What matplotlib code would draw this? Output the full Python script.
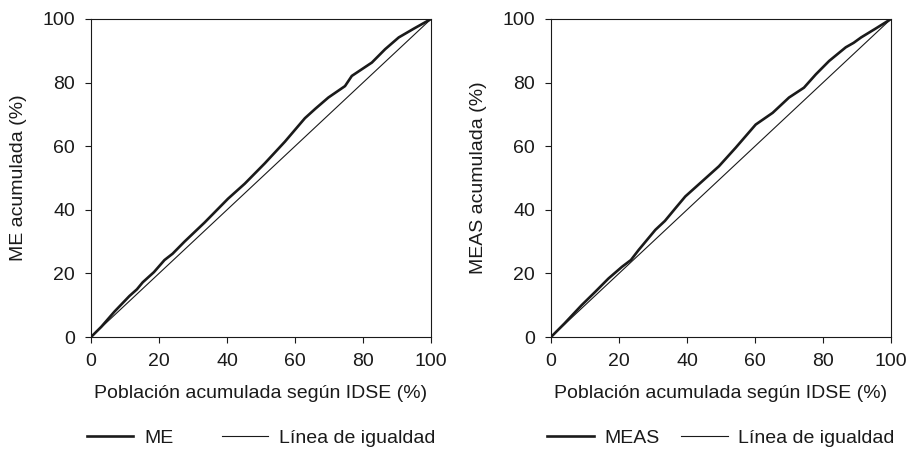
import numpy as np
import matplotlib.pyplot as plt

plt.rcParams['font.family'] = ['Liberation Sans', 'DejaVu Sans']

# Cumulative curves (% population vs % outcome)
me_x = [0, 3.0, 6.9, 11.3, 13.5, 15.2, 18.5, 21.6, 24.0, 27.5, 33.4, 40.3, 45.2,
        51.1, 57.0, 62.9, 66.0, 69.8, 74.7, 76.7, 82.6, 86.5, 90.5, 95.0, 100]
me_y = [0, 3.2, 8.0, 12.9, 15.0, 17.2, 20.4, 24.2, 26.2, 30.0, 36.0, 43.5, 48.2,
        54.6, 61.4, 68.8, 71.8, 75.3, 78.9, 82.1, 86.3, 90.5, 94.2, 97.0, 100]

meas_x = [0, 4.0, 9.0, 13.0, 16.9, 20.9, 23.5, 25.8, 30.7, 33.5, 36.6, 39.5, 44.4,
          49.4, 54.3, 60.2, 65.2, 70.0, 74.4, 77.9, 81.8, 86.7, 89.0, 91.2, 95.5, 100]
meas_y = [0, 4.3, 10.0, 14.2, 18.4, 22.1, 24.2, 27.4, 33.7, 36.5, 40.5, 44.2, 48.9,
          53.7, 59.5, 66.8, 70.5, 75.3, 78.4, 82.6, 86.8, 91.1, 92.5, 94.2, 97.0, 100]

equal = [0, 100]
ticks = [0, 20, 40, 60, 80, 100]

panels = [
    (me_x, me_y, 'ME', 'ME acumulada (%)', 0.0997, 2.5),
    (meas_x, meas_y, 'MEAS', 'MEAS acumulada (%)', 0.6035, 1.1),
]

fig = plt.figure(figsize=(9.13, 4.49), dpi=100)
fs = 14
for x, y, name, ylabel, left, colsp in panels:
    ax = fig.add_axes([left, 0.2494, 0.3724, 0.7083])
    ax.plot(x, y, color='#1a1a1a', lw=1.9, label=name)
    ax.plot(equal, equal, color='#1a1a1a', lw=0.8, label='Línea de igualdad')
    ax.set_xlim(0, 100)
    ax.set_ylim(0, 100)
    ax.set_xticks(ticks)
    ax.set_yticks(ticks)
    ax.tick_params(direction='out', length=4.5, width=0.8, labelsize=fs,
                   pad=7, colors='#1a1a1a')
    for s in ax.spines.values():
        s.set_linewidth(0.8)
        s.set_color('#1a1a1a')
    ax.set_xlabel('Población acumulada según IDSE (%)', fontsize=fs, labelpad=11,
                  color='#1a1a1a')
    ax.set_ylabel(ylabel, fontsize=fs, labelpad=11, color='#1a1a1a')
    leg = ax.legend(loc='center', bbox_to_anchor=(0.5, -0.318), ncol=2,
                    frameon=False, fontsize=fs, handlelength=2.4,
                    columnspacing=colsp, handletextpad=0.55)
    for t in leg.get_texts():
        t.set_color('#1a1a1a')

fig.savefig('out.png', dpi=100)
